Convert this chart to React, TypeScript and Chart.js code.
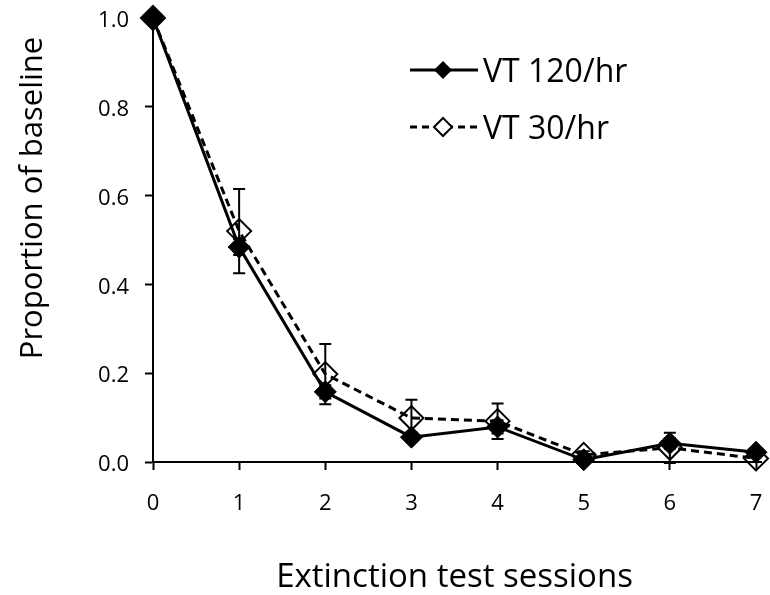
import React, { useEffect, useRef } from "react";
import { Chart, registerables } from "chart.js";

Chart.register(...registerables);

const sessions = [0, 1, 2, 3, 4, 5, 6, 7];
const vt120 = [1.0, 0.484, 0.158, 0.056, 0.079, 0.005, 0.042, 0.022];
const vt120Err = [0, 0.018, 0.015, 0.01, 0.015, 0.004, 0.012, 0.008];
const vt30 = [1.0, 0.52, 0.198, 0.099, 0.092, 0.016, 0.032, 0.008];
const vt30Err = [0, 0.095, 0.068, 0.041, 0.04, 0.008, 0.034, 0.008];
const yTicks = [0, 0.2, 0.4, 0.6, 0.8, 1.0];
const seriesNames = ["VT 120/hr", "VT 30/hr"];
const xTitle = "Extinction test sessions";
const yTitle = "Proportion of baseline";

const FONT = "'Open Sans', sans-serif";

const errorBarPlugin = {
  id: "errorBars",
  beforeDatasetsDraw(chart: any) {
    const { ctx, scales } = chart;
    const xs = scales.x;
    const ys = scales.y;
    const sets = [
      { v: vt30, e: vt30Err },
      { v: vt120, e: vt120Err },
    ];
    ctx.save();
    ctx.strokeStyle = "#000";
    ctx.lineWidth = 2;
    sets.forEach((s) => {
      sessions.forEach((x, i) => {
        if (!s.e[i]) return;
        const px = xs.getPixelForValue(x);
        const top = ys.getPixelForValue(s.v[i] + s.e[i]);
        const bot = ys.getPixelForValue(s.v[i] - s.e[i]);
        ctx.beginPath();
        ctx.moveTo(px, top);
        ctx.lineTo(px, bot);
        ctx.moveTo(px - 6, top);
        ctx.lineTo(px + 6, top);
        ctx.moveTo(px - 6, bot);
        ctx.lineTo(px + 6, bot);
        ctx.stroke();
      });
    });
    ctx.restore();
  },
};

const legendPlugin = {
  id: "customLegend",
  afterDraw(chart: any) {
    const { ctx } = chart;
    ctx.save();
    const rows = [
      { y: 70, dash: [], filled: true, label: seriesNames[0] },
      { y: 127, dash: [7, 5], filled: false, label: seriesNames[1] },
    ];
    rows.forEach((r) => {
      ctx.strokeStyle = "#000";
      ctx.lineWidth = 3;
      ctx.setLineDash(r.dash);
      ctx.beginPath();
      ctx.moveTo(410, r.y);
      ctx.lineTo(478, r.y);
      ctx.stroke();
      ctx.setLineDash([]);
      const cx = 443;
      const rad = 9;
      ctx.beginPath();
      ctx.moveTo(cx, r.y - rad);
      ctx.lineTo(cx + rad, r.y);
      ctx.lineTo(cx, r.y + rad);
      ctx.lineTo(cx - rad, r.y);
      ctx.closePath();
      if (r.filled) {
        ctx.fillStyle = "#000";
        ctx.fill();
      } else {
        ctx.fillStyle = "#fff";
        ctx.fill();
        ctx.lineWidth = 2;
        ctx.stroke();
      }
      ctx.fillStyle = "#000";
      ctx.font = `32px ${FONT}`;
      ctx.textBaseline = "middle";
      ctx.textAlign = "left";
      ctx.fillText(r.label, 483, r.y + 3);
    });
    // y-axis title
    ctx.translate(33, 198);
    ctx.rotate(-Math.PI / 2);
    ctx.font = `31px ${FONT}`;
    ctx.textAlign = "center";
    ctx.textBaseline = "middle";
    ctx.fillStyle = "#000";
    ctx.fillText(yTitle, 0, 0);
    ctx.restore();
  },
};

export default function App() {
  const ref = useRef<HTMLCanvasElement>(null);
  useEffect(() => {
    document.body.style.margin = "0";
    const chart = new Chart(ref.current!, {
      type: "line",
      data: {
        labels: sessions,
        datasets: [
          {
            label: seriesNames[0],
            data: sessions.map((x, i) => ({ x, y: vt120[i] })),
            borderColor: "#000",
            backgroundColor: "#000",
            borderWidth: 3,
            pointStyle: "rectRot",
            pointRadius: 11,
            pointBackgroundColor: "#000",
            pointBorderColor: "#000",
            pointBorderWidth: 1,
            clip: false,
            tension: 0,
          },
          {
            label: seriesNames[1],
            data: sessions.map((x, i) => ({ x, y: vt30[i] })),
            borderColor: "#000",
            backgroundColor: "rgba(0,0,0,0)",
            borderWidth: 3,
            borderDash: [8, 5],
            pointStyle: "rectRot",
            pointRadius: 12,
            pointBackgroundColor: "rgba(0,0,0,0)",
            pointBorderColor: "#000",
            pointBorderWidth: 2,
            clip: false,
            tension: 0,
          },
        ],
      },
      options: {
        animation: false,
        responsive: false,
        maintainAspectRatio: false,
        layout: { padding: { top: 18, right: 13, left: 0, bottom: 0 } },
        plugins: { legend: { display: false }, tooltip: { enabled: false } },
        scales: {
          x: {
            type: "linear",
            min: 0,
            max: 7,
            afterFit(scale: any) {
              scale.height = 133;
              scale.paddingLeft = 0;
              scale.paddingRight = 0;
            },
            afterBuildTicks(scale: any) {
              scale.ticks = sessions.map((v) => ({ value: v }));
            },
            ticks: {
              color: "#000",
              font: { family: FONT, size: 22 },
              padding: 21,
              maxRotation: 0,
              autoSkip: false,
              callback: (v: any) => String(v),
            },
            grid: {
              drawOnChartArea: false,
              drawTicks: true,
              tickLength: 8,
              tickWidth: 2,
              color: "#000",
            },
            border: { display: true, color: "#000", width: 2 },
            title: {
              display: true,
              text: xTitle,
              color: "#000",
              font: { family: FONT, size: 33 },
              padding: { top: 0, bottom: -2 },
            },
          },
          y: {
            min: 0,
            max: 1,
            afterFit(scale: any) {
              scale.width = 153;
              scale.paddingTop = 0;
              scale.paddingBottom = 0;
            },
            afterBuildTicks(scale: any) {
              scale.ticks = yTicks.map((v) => ({ value: v }));
            },
            ticks: {
              color: "#000",
              font: { family: FONT, size: 22 },
              padding: 16,
              labelOffset: 3,
              callback: (v: any) => Number(v).toFixed(1),
            },
            grid: {
              drawOnChartArea: false,
              drawTicks: true,
              tickLength: 8,
              tickWidth: 2,
              color: "#000",
            },
            border: { display: true, color: "#000", width: 2 },
            title: { display: false },
          },
        },
      },
      plugins: [errorBarPlugin, legendPlugin],
    } as any);
    return () => chart.destroy();
  }, []);
  return (
    <div style={{ position: "absolute", left: 0, top: 0, width: 770, height: 595, background: "#fff" }}>
      <canvas ref={ref} width={770} height={595} style={{ width: 770, height: 595 }} />
    </div>
  );
}
